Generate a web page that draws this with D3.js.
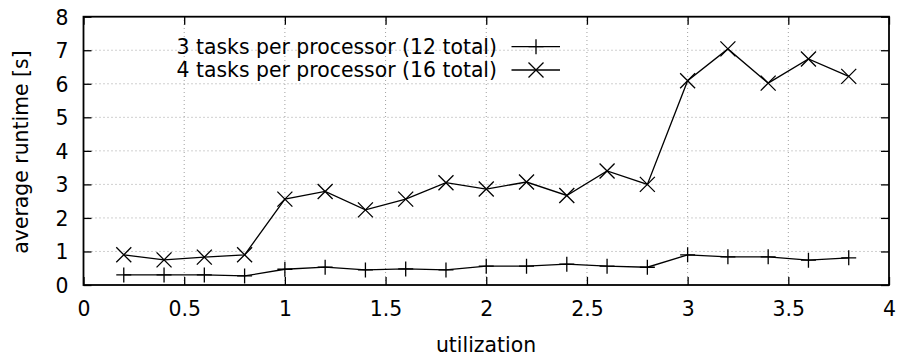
<!DOCTYPE html>
<html><head><meta charset="utf-8">
<script src="https://cdn.jsdelivr.net/npm/d3@7"></script>
<style>body{margin:0;background:#fff}svg{display:block}text{font-family:"DejaVu Sans",sans-serif;fill:#000}</style>
</head><body><svg id="c" width="899" height="358"></svg>
<script>
const utilization = [0.2,0.4,0.6,0.8,1.0,1.2,1.4,1.6,1.8,2.0,2.2,2.4,2.6,2.8,3.0,3.2,3.4,3.6,3.8];
const tasks3 = [0.30,0.30,0.30,0.27,0.47,0.53,0.45,0.48,0.45,0.56,0.56,0.62,0.56,0.53,0.90,0.84,0.84,0.74,0.81];
const tasks4 = [0.90,0.75,0.83,0.90,2.56,2.79,2.24,2.56,3.05,2.86,3.07,2.67,3.40,3.00,6.09,7.04,6.02,6.74,6.22];
const seriesNames = ["3 tasks per processor (12 total)","4 tasks per processor (16 total)"];
const xTicks = [0,0.5,1,1.5,2,2.5,3,3.5,4];
const yTicks = [0,1,2,3,4,5,6,7,8];

const svg = d3.select("#c");
const L=83.5,R=889,T=16.7,B=285;
const FS=20.4;
const x = d3.scaleLinear().domain([0,4]).range([L,R]);
const y = d3.scaleLinear().domain([0,8]).range([B,T]);

// grid
const g = svg.append("g");
g.selectAll(".gx").data(xTicks.filter(d=>d>0&&d<4)).join("line")
 .attr("x1",d=>x(d)).attr("x2",d=>x(d)).attr("y1",B).attr("y2",T)
 .attr("stroke","#a0a0a0").attr("stroke-width",1).attr("stroke-dasharray","1,3");
g.selectAll(".gy").data(yTicks.filter(d=>d>0&&d<8)).join("line")
 .attr("x1",L).attr("x2",R).attr("y1",d=>y(d)).attr("y2",d=>y(d))
 .attr("stroke","#a0a0a0").attr("stroke-width",1).attr("stroke-dasharray","1,3");

// axes with inward ticks
const ax = svg.append("g").attr("transform",`translate(0,${B})`)
 .call(d3.axisBottom(x).tickValues(xTicks).tickFormat(d3.format("")).tickSizeInner(-8).tickSizeOuter(0).tickPadding(17));
const ay = svg.append("g").attr("transform",`translate(${L},0)`)
 .call(d3.axisLeft(y).tickValues(yTicks).tickFormat(d3.format("")).tickSizeInner(-8).tickSizeOuter(0).tickPadding(15));
const at = svg.append("g").attr("transform",`translate(0,${T})`)
 .call(d3.axisTop(x).tickValues(xTicks).tickFormat("").tickSizeInner(-8).tickSizeOuter(0));
const ar = svg.append("g").attr("transform",`translate(${R},0)`)
 .call(d3.axisRight(y).tickValues(yTicks).tickFormat("").tickSizeInner(-8).tickSizeOuter(0));
[ax,ay,at,ar].forEach(a=>{a.select(".domain").remove();a.selectAll("line").attr("stroke","#000").attr("stroke-width",1.3);
 a.selectAll("text").attr("font-size",FS).attr("font-family","DejaVu Sans").attr("fill","#000");});
ax.selectAll("text").attr("dy","0.71em");
ay.selectAll("text").attr("dy","0.36em");
svg.append("rect").attr("x",L).attr("y",T).attr("width",R-L).attr("height",B-T)
 .attr("fill","none").attr("stroke","#000").attr("stroke-width",1.8);

// lines
const line = d3.line().x((d,i)=>x(utilization[i])).y(d=>y(d));
[tasks3,tasks4].forEach(s=>{
 svg.append("path").datum(s).attr("d",line).attr("fill","none").attr("stroke","#000").attr("stroke-width",1.3);
});
const m=7.5;
function plus(sel,cx,cy){sel.append("path").attr("d",`M${cx-m},${cy}H${cx+m}M${cx},${cy-m}V${cy+m}`).attr("stroke","#000").attr("stroke-width",1.3);}
function cross(sel,cx,cy){sel.append("path").attr("d",`M${cx-m},${cy-m}L${cx+m},${cy+m}M${cx-m},${cy+m}L${cx+m},${cy-m}`).attr("stroke","#000").attr("stroke-width",1.3);}
tasks3.forEach((v,i)=>plus(svg,x(utilization[i]),y(v)));
tasks4.forEach((v,i)=>cross(svg,x(utilization[i]),y(v)));

// legend
const ly=[46.7,70];
seriesNames.forEach((n,i)=>{
 svg.append("text").attr("x",497).attr("y",ly[i]).attr("dy","0.36em").attr("text-anchor","end").attr("font-size",FS).text(n);
 svg.append("line").attr("x1",511.5).attr("x2",560).attr("y1",ly[i]).attr("y2",ly[i]).attr("stroke","#000").attr("stroke-width",1.3);
 (i===0?plus:cross)(svg,536,ly[i]);
});

// axis titles
svg.append("text").attr("x",486).attr("y",352).attr("text-anchor","middle").attr("font-size",FS).text("utilization");
svg.append("text").attr("transform","translate(27.5,152) rotate(-90)").attr("text-anchor","middle").attr("font-size",FS).text("average runtime [s]");
</script></body></html>
